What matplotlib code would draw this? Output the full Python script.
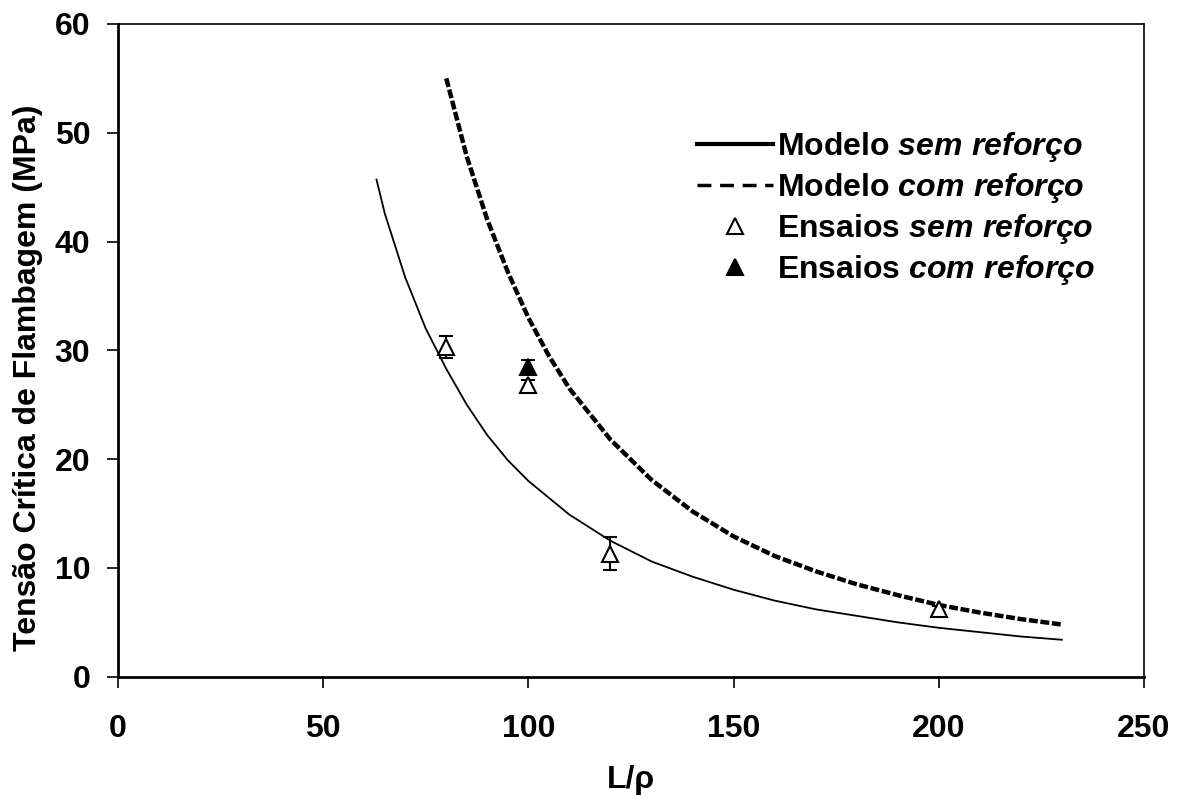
import matplotlib
matplotlib.use("Agg")
import matplotlib.pyplot as plt

plt.rcParams["font.family"] = ["Liberation Sans", "DejaVu Sans"]
plt.rcParams["font.weight"] = "bold"
plt.rcParams["mathtext.fontset"] = "custom"
plt.rcParams["mathtext.it"] = "Liberation Sans:italic:bold"
plt.rcParams["mathtext.rm"] = "Liberation Sans:bold"

# Modelo sem reforço (curva)
x_sem = [63, 65, 70, 75, 80, 85, 90, 95, 100, 110, 120, 130, 140, 150,
         160, 170, 180, 190, 200, 210, 220, 230]
y_sem = [45.7, 42.6, 36.7, 32.0, 28.3, 25.0, 22.2, 19.9, 18.0, 14.9, 12.5,
         10.6, 9.2, 8.0, 7.0, 6.2, 5.6, 5.0, 4.5, 4.1, 3.7, 3.4]

# Modelo com reforço
x_com = [80, 85, 90, 95, 100, 105, 110, 120, 130, 140, 150, 160, 170,
         180, 190, 200, 210, 220, 230]
y_com = [55.0, 47.8, 42.0, 37.2, 33.0, 29.5, 26.5, 21.8, 18.1, 15.2, 12.9,
         11.1, 9.7, 8.5, 7.5, 6.6, 5.9, 5.3, 4.8]

# Ensaios
ens_sem_x = [80, 100, 120, 200]
ens_sem_y = [30.3, 26.8, 11.3, 6.2]
ens_sem_err = [1.0, 0.5, 1.5, 0.3]

ens_com_x = [100]
ens_com_y = [28.5]
ens_com_err = [0.6]

FS = 23

fig = plt.figure(figsize=(11.82, 7.99), dpi=100)
ax = fig.add_axes([0.0998, 0.153, 0.868, 0.817])

l1, = ax.plot(x_sem, y_sem, color="black", lw=1.3)
l2, = ax.plot(x_com, y_com, color="black", lw=3.2, dashes=(2.0, 0.6))

ax.errorbar(ens_sem_x, ens_sem_y, yerr=ens_sem_err, fmt="none",
            ecolor="black", elinewidth=1.5, capsize=5, capthick=1.5)
ax.errorbar(ens_com_x, ens_com_y, yerr=ens_com_err, fmt="none",
            ecolor="black", elinewidth=1.5, capsize=5, capthick=1.5)
m1, = ax.plot(ens_sem_x, ens_sem_y, "^", ms=11, mfc="white", mec="black",
              mew=1.5, ls="none")
m2, = ax.plot(ens_com_x, ens_com_y, "^", ms=11, mfc="black", mec="black",
              mew=1.5, ls="none")

h1, = ax.plot([], [], color="black", lw=3)
h2, = ax.plot([], [], color="black", lw=2.5, dashes=(4, 2.5))

ax.legend([h1, h2, m1, m2],
          [r"Modelo $\mathit{sem\ reforço}$",
           r"Modelo $\mathit{com\ reforço}$",
           r"Ensaios $\mathit{sem\ reforço}$",
           r"Ensaios $\mathit{com\ reforço}$"],
          loc="upper right", bbox_to_anchor=(0.952, 0.837),
          frameon=False, fontsize=FS, handlelength=2.4, handletextpad=0.1,
          labelspacing=0.22, borderpad=0, borderaxespad=0)

ax.set_xlim(0, 250)
ax.set_ylim(0, 60)
ax.set_xticks([0, 50, 100, 150, 200, 250])
ax.set_yticks([0, 10, 20, 30, 40, 50, 60])
ax.tick_params(direction="out", length=8, width=1.2, labelsize=FS)
ax.tick_params(axis="x", pad=19)
ax.tick_params(axis="y", pad=12)
for s in ["left", "bottom"]:
    ax.spines[s].set_linewidth(2)
for s in ["top", "right"]:
    ax.spines[s].set_linewidth(1.2)

ax.set_xlabel("L/ρ", fontsize=FS, fontweight="bold", labelpad=15)
ax.set_ylabel("Tensão Crítica de Flambagem (MPa)", fontsize=FS,
              fontweight="bold")
ax.yaxis.set_label_coords(-0.073, 0.458)

fig.savefig("out.png", dpi=100)
